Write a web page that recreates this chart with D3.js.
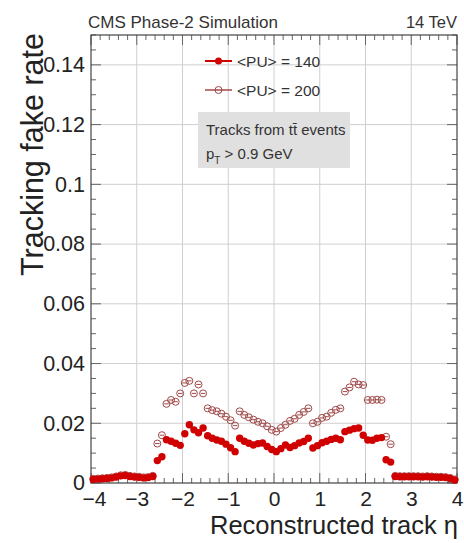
<!DOCTYPE html>
<html>
<head>
<meta charset="utf-8">
<script src="https://cdn.jsdelivr.net/npm/d3@7"></script>
<style>
  html, body { margin: 0; padding: 0; background: #fff; }
  svg { display: block; font-family: "Liberation Sans", Arial, sans-serif; }
</style>
</head>
<body>
<svg id="chart" width="464" height="543"></svg>
<script>
// bin centres in eta (0.1 wide)
const etaBins = d3.range(80).map(i => +(-3.95 + 0.1 * i).toFixed(2));

// <PU> = 140
const fakePU140 = [
  0.0012, 0.0013, 0.0014, 0.0015, 0.0017, 0.0020, 0.0024, 0.0025, 0.0022, 0.0020,
  0.0019, 0.0017, 0.0018, 0.0022, 0.0075, 0.0088, 0.0145, 0.0140, 0.0133, 0.0126,
  0.0165, 0.0195, 0.0178, 0.0168, 0.0184, 0.0158, 0.0150, 0.0144, 0.0140, 0.0130,
  0.0118, 0.0105, 0.0150, 0.0140, 0.0133, 0.0127, 0.0132, 0.0134, 0.0122, 0.0112,
  0.0105, 0.0115, 0.0127, 0.0119, 0.0125, 0.0134, 0.0139, 0.0150, 0.0117, 0.0125,
  0.0135, 0.0140, 0.0146, 0.0150, 0.0145, 0.0172, 0.0177, 0.0182, 0.0184, 0.0160,
  0.0144, 0.0143, 0.0150, 0.0152, 0.0078, 0.0070, 0.0022, 0.0021, 0.0021, 0.0021,
  0.0021, 0.0021, 0.0020, 0.0021, 0.0020, 0.0019, 0.0019, 0.0018, 0.0015, 0.0010
];

// <PU> = 200
const fakePU200 = [
  0.0014, 0.0015, 0.0016, 0.0017, 0.0019, 0.0022, 0.0026, 0.0027, 0.0024, 0.0022,
  0.0021, 0.0019, 0.0020, 0.0024, 0.0132, 0.0160, 0.0265, 0.0278, 0.0272, 0.0300,
  0.0335, 0.0342, 0.0300, 0.0330, 0.0300, 0.0250, 0.0244, 0.0240, 0.0232, 0.0222,
  0.0210, 0.0192, 0.0240, 0.0228, 0.0220, 0.0212, 0.0205, 0.0200, 0.0190, 0.0178,
  0.0172, 0.0184, 0.0195, 0.0208, 0.0215, 0.0228, 0.0238, 0.0250, 0.0200, 0.0205,
  0.0218, 0.0222, 0.0235, 0.0245, 0.0250, 0.0306, 0.0320, 0.0339, 0.0330, 0.0328,
  0.0278, 0.0278, 0.0279, 0.0278, 0.0155, 0.0130, 0.0024, 0.0023, 0.0023, 0.0023,
  0.0023, 0.0023, 0.0022, 0.0023, 0.0022, 0.0021, 0.0021, 0.0020, 0.0017, 0.0012
];

const xTicks = [-4, -3, -2, -1, 0, 1, 2, 3, 4];
const xTickLabels = ["\u22124", "\u22123", "\u22122", "\u22121", "0", "1", "2", "3", "4"];
const yTicks = [0, 0.02, 0.04, 0.06, 0.08, 0.1, 0.12, 0.14];
const yTickLabels = ["0", "0.02", "0.04", "0.06", "0.08", "0.1", "0.12", "0.14"];

const svg = d3.select("#chart");
const x = d3.scaleLinear().domain([-4, 4]).range([91, 457]);
const y = d3.scaleLinear().domain([0, 0.15]).range([483, 35]);
const [x0, x1] = x.range();
const [y0, y1] = y.range();

// grid
const grid = svg.append("g").attr("stroke", "#cfcfcf").attr("stroke-width", 1);
grid.selectAll(".gx").data(xTicks.slice(1, -1)).join("line")
  .attr("x1", d => x(d)).attr("x2", d => x(d)).attr("y1", y1).attr("y2", y0);
grid.selectAll(".gy").data(yTicks.slice(1)).join("line")
  .attr("x1", x0).attr("x2", x1).attr("y1", d => y(d)).attr("y2", d => y(d));

// ticks (major + minor) on all four sides
const ticks = svg.append("g").attr("stroke", "#666").attr("stroke-width", 1);
const xMinor = d3.range(-4, 4.001, 0.2).map(v => +v.toFixed(2));
const yMinor = d3.range(0, 0.1501, 0.005).map(v => +v.toFixed(3));
const isMajX = v => Math.abs(v - Math.round(v)) < 1e-6;
const isMajY = v => Math.abs(v / 0.02 - Math.round(v / 0.02)) < 1e-6;
xMinor.forEach(v => {
  const L = isMajX(v) ? 10 : 5;
  ticks.append("line").attr("x1", x(v)).attr("x2", x(v)).attr("y1", y0).attr("y2", y0 - L);
  ticks.append("line").attr("x1", x(v)).attr("x2", x(v)).attr("y1", y1).attr("y2", y1 + L);
});
yMinor.forEach(v => {
  const L = isMajY(v) ? 10 : 5;
  ticks.append("line").attr("x1", x0).attr("x2", x0 + L).attr("y1", y(v)).attr("y2", y(v));
  ticks.append("line").attr("x1", x1).attr("x2", x1 - L).attr("y1", y(v)).attr("y2", y(v));
});

// frame
svg.append("rect")
  .attr("x", x0).attr("y", y1).attr("width", x1 - x0).attr("height", y0 - y1)
  .attr("fill", "none").attr("stroke", "#444").attr("stroke-width", 1.2);

// axes labels via d3 axes (no lines)
svg.append("g")
  .attr("transform", `translate(0,${y0})`)
  .call(d3.axisBottom(x).tickValues(xTicks).tickSize(0).tickPadding(8)
    .tickFormat((d, i) => xTickLabels[i]))
  .call(g => g.select(".domain").remove())
  .call(g => g.selectAll("text").attr("font-size", 21).attr("fill", "#222")
    .attr("font-family", "Liberation Sans, Arial, sans-serif")
    .attr("dx", d => d === -4 ? 3 : 0));

svg.append("g")
  .attr("transform", `translate(${x0},0)`)
  .call(d3.axisLeft(y).tickValues(yTicks).tickSize(0).tickPadding(6)
    .tickFormat((d, i) => yTickLabels[i]))
  .call(g => g.select(".domain").remove())
  .call(g => g.selectAll("text").attr("font-size", 21.5).attr("fill", "#222")
    .attr("font-family", "Liberation Sans, Arial, sans-serif"));

// axis titles
svg.append("text")
  .attr("x", 458).attr("y", 534)
  .attr("text-anchor", "end").attr("font-size", 25.5).attr("fill", "#222")
  .text("Reconstructed track \u03B7");

svg.append("text")
  .attr("transform", "translate(43,33) rotate(-90)")
  .attr("text-anchor", "end").attr("font-size", 30.5).attr("fill", "#222")
  .text("Tracking fake rate");

// header
svg.append("text").attr("x", 88).attr("y", 28)
  .attr("font-size", 17).attr("fill", "#333").text("CMS Phase-2 Simulation");
svg.append("text").attr("x", 457).attr("y", 28).attr("text-anchor", "end")
  .attr("font-size", 16.5).attr("fill", "#333").text("14 TeV");

// data
const red = "#d00000";
const open = "#a04848";
const pts200 = etaBins.map((e, i) => ({ e, v: fakePU200[i] }));
const pts140 = etaBins.map((e, i) => ({ e, v: fakePU140[i] }));

const s200 = svg.append("g");
s200.selectAll("line").data(pts200).join("line")
  .attr("x1", d => x(d.e - 0.05)).attr("x2", d => x(d.e + 0.05))
  .attr("y1", d => y(d.v)).attr("y2", d => y(d.v))
  .attr("stroke", open).attr("stroke-width", 1);
s200.selectAll("circle").data(pts200).join("circle")
  .attr("cx", d => x(d.e)).attr("cy", d => y(d.v)).attr("r", 3.5)
  .attr("fill", "none").attr("stroke", open).attr("stroke-width", 1);

const s140 = svg.append("g");
s140.selectAll("line").data(pts140).join("line")
  .attr("x1", d => x(d.e - 0.05)).attr("x2", d => x(d.e + 0.05))
  .attr("y1", d => y(d.v)).attr("y2", d => y(d.v))
  .attr("stroke", red).attr("stroke-width", 2);
s140.selectAll("circle").data(pts140).join("circle")
  .attr("cx", d => x(d.e)).attr("cy", d => y(d.v)).attr("r", 3.7)
  .attr("fill", red);

// legend
const leg = svg.append("g");
leg.append("line").attr("x1", 205).attr("x2", 232).attr("y1", 61).attr("y2", 61)
  .attr("stroke", red).attr("stroke-width", 2);
leg.append("circle").attr("cx", 218.5).attr("cy", 61).attr("r", 3.5).attr("fill", red);
leg.append("text").attr("x", 237).attr("y", 66.5).attr("font-size", 15.5).attr("fill", "#333")
  .text("<PU> = 140");
leg.append("line").attr("x1", 205).attr("x2", 232).attr("y1", 90).attr("y2", 90)
  .attr("stroke", open).attr("stroke-width", 1.5);
leg.append("circle").attr("cx", 218.5).attr("cy", 90).attr("r", 3.5)
  .attr("fill", "none").attr("stroke", open).attr("stroke-width", 1);
leg.append("text").attr("x", 237).attr("y", 95.5).attr("font-size", 15.5).attr("fill", "#333")
  .text("<PU> = 200");

// info box
svg.append("rect").attr("x", 198).attr("y", 112).attr("width", 152).attr("height", 56)
  .attr("fill", "#e0e0e0");
svg.append("text").attr("x", 206).attr("y", 135).attr("font-size", 15).attr("fill", "#333")
  .text("Tracks from tt\u0304 events");
const pt = svg.append("text").attr("x", 206).attr("y", 159).attr("font-size", 15).attr("fill", "#333");
pt.append("tspan").text("p");
pt.append("tspan").attr("font-size", 10).attr("dy", 5).text("T");
pt.append("tspan").attr("dy", -5).text(" > 0.9 GeV");
</script>
</body>
</html>
